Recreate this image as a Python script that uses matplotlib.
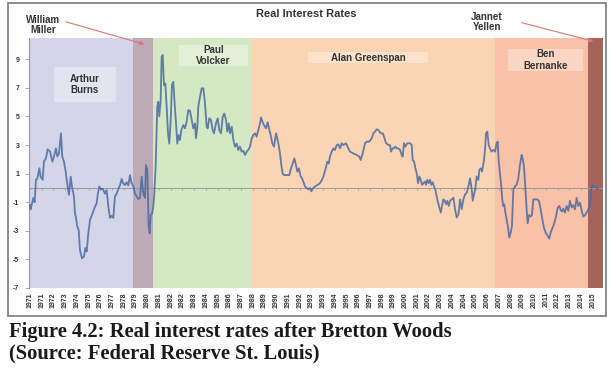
import matplotlib
matplotlib.use('Agg')
import matplotlib.pyplot as plt
from matplotlib.patches import Rectangle
import numpy as np

# ---------------- data ----------------
# months since Jan 1971, real interest rate (%)
months = [0, 0.6, 3.1, 4.4, 5.6, 6.9, 8.8, 10.0, 11.9, 13.1, 15.0, 16.6, 18.8, 21.0, 22.5, 24.4,
          25.7, 27.2, 29.1, 30.3, 31.9, 33.5, 35.3, 36.6, 38.2, 39.4, 41.3, 42.2, 43.2, 44.4, 45.7,
          46.9, 48.8, 50.7, 51.9, 53.2, 54.7, 56.3, 58.8, 61.0, 62.5, 63.5, 65.0, 66.6, 68.2, 70.4,
          71.9, 73.5, 75.1, 76.6, 78.2, 79.7, 81.3, 82.9, 84.4, 86.0, 87.6, 89.1, 90.7, 92.3, 93.8,
          95.4, 97.0, 98.5, 100.1, 101.6, 103.2, 104.8, 106.3, 107.9, 108.8, 110.1, 111.3, 112.3,
          113.2, 114.5, 115.7, 116.6, 117.9, 118.8, 119.4, 120.4, 121.3, 122.6, 123.5, 124.5, 125.7,
          127.0, 128.2, 129.5, 130.7, 132.0, 133.2, 134.5, 135.7, 137.0, 138.2, 139.5, 140.7, 142.0,
          143.9, 145.4, 147.0, 148.5, 150.1, 151.7, 153.2, 154.8, 155.7, 157.0, 157.9, 159.5, 161.1,
          162.6, 164.2, 165.7, 166.7, 168.2, 169.8, 171.4, 172.6, 174.5, 176.1, 177.6, 179.2, 180.8,
          182.3, 183.9, 185.1, 186.4, 187.6, 189.2, 190.8, 192.3, 193.9, 195.4, 197.0, 198.6, 200.1,
          201.7, 203.3, 204.8, 206.4, 208.0, 209.5, 211.1, 212.6, 214.2, 215.8, 216.7, 218.3, 219.5,
          221.4, 223.0, 224.5, 225.8, 227.3, 228.9, 230.8, 232.0, 233.3, 234.5, 235.8, 237.0, 238.3,
          240.8, 243.3, 244.5, 246.4, 248.0, 249.5, 250.8, 252.3, 253.9, 255.2, 256.4, 258.0, 259.5,
          261.1, 262.7, 263.9, 265.8, 267.4, 269.5, 272.0, 273.9, 275.2, 277.1, 278.9, 280.2, 281.4,
          283.0, 284.6, 286.1, 287.7, 289.2, 290.8, 292.4, 293.9, 296.4, 298.6, 300.2, 303.3, 306.4,
          309.0, 310.2, 312.1, 314.3, 315.9, 318.4, 320.5, 322.1, 323.7, 325.2, 326.8, 329.0, 330.9,
          332.1, 334.0, 336.2, 337.7, 338.7, 340.2, 341.5, 342.7, 344.0, 345.6, 347.1, 348.7, 349.6,
          350.9, 352.1, 354.0, 356.5, 358.1, 359.0, 360.3, 361.5, 362.8, 364.0, 365.3, 366.5, 367.8,
          369.0, 370.6, 371.5, 372.8, 374.0, 375.3, 376.5, 377.8, 379.0, 380.3, 381.5, 382.8, 384.0,
          385.3, 386.5, 387.8, 389.0, 390.3, 391.5, 392.8, 394.0, 395.6, 397.2, 398.7, 400.3, 401.9,
          403.4, 405.0, 406.5, 408.1, 409.7, 411.2, 412.8, 414.4, 415.3, 416.5, 417.8, 419.0, 420.6,
          421.5, 422.8, 424.0, 425.9, 426.9, 427.8, 429.0, 430.3, 431.5, 433.0, 434.6, 436.2, 437.7,
          438.7, 439.6, 440.9, 442.1, 443.0, 444.0, 444.9, 445.9, 447.1, 448.4, 449.6, 450.9, 452.1,
          453.4, 454.9, 456.5, 458.1, 459.6, 461.2, 462.1, 463.4, 464.6, 465.9, 466.8, 468.1, 469.6,
          470.9, 472.1, 473.7, 475.9, 477.4, 479.0, 480.6, 482.1, 483.7, 485.6, 487.1, 488.4, 490.3,
          491.5, 493.4, 495.0, 496.5, 497.8, 499.0, 500.3, 501.8, 503.4, 505.0, 506.5, 508.1, 509.7,
          511.2, 512.8, 514.3, 515.9, 517.5, 519.0, 520.6, 522.2, 523.7, 525.3, 526.2, 527.5, 528.7,
          530.3, 531.5, 532.8]
rates = [-1.2, -1.5, -0.7, -1.0, 0.56, 0.65, 1.38, 0.79, 0.56, 1.84, 2.07, 2.7, 2.55, 1.84, 2.2, 2.77,
         2.2, 2.4, 3.82, 2.2, 1.84, 1.14, 0.1, -0.49, 0.79, 0.1, -0.6, -1.77, -2.1, -2.7, -2.94,
         -4.34, -4.92, -4.8, -4.2, -4.45, -3.2, -2.24, -1.77, -1.3, -1.1, -0.49, 0.1, -0.1, -0.05, -0.4,
         -0.15, -1.3, -2.1, -1.95, -2.1, -0.6, -0.4, -0.07, 0.17, 0.63, 0.3, 0.2, 0.4, 0.17, 0.9,
         0.33, 0.1, -0.4, -0.6, -0.77, -0.7, 0.79, -0.4, -0.7, 1.6, 1.27, -2.7, -3.17,
         -1.89, -1.8, -1.3, -0.4, 1.49, 4.0, 5.7, 6.03, 5.0, 6.1, 9.18, 9.3, 7.2,
         7.3, 5.69, 3.8, 3.1, 4.75, 7.2, 7.43, 5.92, 4.52, 3.1, 3.7, 3.35, 4.05,
         4.4, 4.17, 4.64, 5.45, 5.4, 4.75, 4.17, 4.52, 3.47, 4.29, 5.69, 6.38, 6.97,
         6.97, 5.92, 4.29, 4.17, 4.87, 4.75, 4.05, 3.82, 4.52, 4.87, 4.05, 3.82, 4.98,
         5.2, 4.75, 3.94, 4.52, 3.82, 4.29, 3.35, 2.89, 3.1, 2.66, 2.89, 2.54, 2.6,
         2.31, 2.54, 2.66, 2.89, 3.47, 3.7, 3.82, 3.59, 4.05, 4.52, 4.94, 4.6, 4.4,
         4.17, 4.6, 4.05, 3.7, 3.13, 2.89, 3.82, 3.47, 3.0, 2.42, 1.6, 1.0, 0.9,
         0.9, 0.9, 1.28, 1.72, 2.07, 1.6, 1.14, 1.37, 0.8, 0.68, 0.45, 0.1, 0.0,
         -0.1, 0.0, -0.24, 0.0, 0.1, 0.2, 0.33, 0.57, 0.8, 1.28, 1.84, 1.7, 2.19,
         2.54, 2.77, 2.65, 3.0, 3.05, 2.77, 3.13, 3.0, 3.13, 2.77, 2.54, 2.42, 2.31,
         2.19, 1.96, 2.42, 3.13, 3.24, 3.24, 3.47, 3.82, 3.94, 4.1, 4.05, 3.82, 3.82,
         3.59, 3.13, 3.0, 3.0, 2.54, 2.77, 2.77, 2.89, 2.77, 2.77, 2.66, 2.31, 2.19,
         3.13, 2.89, 3.13, 3.13, 3.0, 1.96, 1.84, 1.37, 1.03, 0.33, 0.8, 0.57, 0.22,
         0.33, 0.45, 0.22, 0.57, 0.33, 0.57, 0.22, 0.4, 0.1, -0.13, -0.6, -1.03, -1.37,
         -1.72, -1.26, -0.8, -0.9, -1.14, -0.9, -1.26, -0.9, -0.8, -0.68, -1.49, -2.07, -1.84,
         -0.8, -1.49, -0.8, -0.45, -0.33, 0.1, 0.68, -0.13, -0.9, -0.45, 0.0, 0.8, 0.57,
         1.26, 1.37, 1.14, 1.96, 2.77, 3.82, 3.94, 3.0, 2.77, 2.54, 2.66, 2.54, 3.13,
         3.24, 1.96, 1.03, 0.1, -0.8, -1.26, -1.15, -1.72, -2.19, -2.77, -3.47, -3.12, -2.66,
         -0.1, 0.1, 0.22, 0.68, 1.6, 2.31, 2.07, 1.49, 0.1, -1.53, -2.47, -1.9, -2.0,
         -1.9, -0.8, -0.8, -0.8, -0.9, -1.49, -2.19, -2.77, -3.12, -3.36, -3.54, -3.12, -2.77,
         -2.54, -2.0, -1.4, -1.26, -1.53, -1.65, -1.45, -1.72, -1.26, -1.6, -0.9, -1.37, -1.2,
         -1.5, -0.7, -1.26, -1.03, -1.6, -2.0, -1.9, -1.72, -1.5, -1.26, -0.33, 0.22, 0.1,
         0.07, 0.0, -0.07]

tick_labels = ['1971', '1971', '1972', '1973', '1974', '1975', '1976', '1977', '1978', '1979',
               '1980', '1981', '1982', '1982', '1983', '1984', '1985', '1986', '1987', '1988',
               '1989', '1990', '1991', '1992', '1993', '1993', '1994', '1995', '1996', '1997',
               '1998', '1999', '2000', '2001', '2002', '2003', '2004', '2004', '2005', '2006',
               '2007', '2008', '2009', '2010', '2011', '2012', '2013', '2014', '2015']
ytick_values = [9, 7, 5, 3, 1, -1, -3, -5, -7]

chairs = ['Arthur\nBurns', 'William\nMiller', 'Paul\nVolcker', 'Alan Greenspan', 'Ben\nBernanke', 'Jannet\nYellen']
chair_start = [-0.9, 96.6, 115.4, 208.3, 436.2, 523.4]
chair_end = [96.6, 115.4, 208.3, 436.2, 523.4, 537.5]

# ---------------- style ----------------
band_colors = ['#d5d5ea', '#bcaab6', '#d3e8c3', '#fad5b5', '#f8c1a8', '#a5645a']
box_colors = {'Arthur\nBurns': '#e3e3f2', 'Paul\nVolcker': '#e3f0d8',
              'Alan Greenspan': '#fce2cb', 'Ben\nBernanke': '#fcd6c5'}
# label boxes (xmin, xmax, ymin, ymax) in data units
box_extent = {'Arthur\nBurns': (22.5, 80.7, 6.01, 8.46),
              'Paul\nVolcker': (139.8, 204.5, 8.53, 10.0),
              'Alan Greenspan': (260.8, 373.4, 8.74, 9.51),
              'Ben\nBernanke': (448.4, 518.8, 8.18, 9.72)}

plt.rcParams['font.family'] = ['Liberation Sans', 'DejaVu Sans']
txt = '#333333'

W, H = 610, 374
fig = plt.figure(figsize=(W / 100, H / 100), dpi=100)
fig.patch.set_facecolor('white')
ax = fig.add_axes([29 / W, 1 - 288 / H, (603 - 29) / W, (288 - 38) / H])
ax.set_xlim(-0.9, 537.5)
ax.set_ylim(-7, 10.49)

for s, e, c in zip(chair_start, chair_end, band_colors):
    ax.axvspan(s, e, color=c, lw=0, zorder=0)

for name, (x0, x1, y0, y1) in box_extent.items():
    ax.add_patch(Rectangle((x0, y0), x1 - x0, y1 - y0, facecolor=box_colors[name],
                           edgecolor='none', zorder=1))
    ax.text((x0 + x1) / 2, (y0 + y1) / 2, name, ha='center', va='center', fontsize=7,
            fontweight='bold', color=txt, linespacing=1.15, zorder=2)

# zero axis with tick marks
ax.axhline(0, color='#9a9a9a', lw=0.7, zorder=2)
tick_pos = np.arange(len(tick_labels)) * 11
ax.vlines(tick_pos, -0.17, 0, color='#9a9a9a', lw=0.6, zorder=2)

ax.plot(months, rates, color='#4a6aa0', lw=1.3, alpha=0.85, zorder=3)

ax.set_xticks(tick_pos)
ax.set_xticklabels(tick_labels, rotation=90, fontsize=5, fontweight='bold', color=txt)
ax.tick_params(axis='x', length=0, pad=3)
ax.set_yticks(ytick_values)
ax.set_yticklabels([str(v) for v in ytick_values], fontsize=5, fontweight='bold', color=txt)
ax.tick_params(axis='y', length=3, width=0.6, color='#9a9a9a', pad=4)
for sp in ['top', 'right', 'bottom']:
    ax.spines[sp].set_visible(False)
ax.spines['left'].set_color('#9a9a9a')
ax.spines['left'].set_linewidth(0.8)

# title and outside annotations
fig.text(306 / W, 1 - 14 / H, 'Real Interest Rates', ha='center', va='center',
         fontsize=8, fontweight='bold', color=txt)
fig.text(43 / W, 1 - 25 / H, chairs[1], ha='center', va='center', fontsize=7,
         fontweight='bold', color=txt, linespacing=1.1)
fig.text(487 / W, 1 - 22 / H, chairs[5], ha='center', va='center', fontsize=7,
         fontweight='bold', color=txt, linespacing=1.1)
arrow_kw = dict(arrowstyle='-|>', color='#e07575', lw=0.8, mutation_scale=6)
fig.add_artist(matplotlib.patches.FancyArrowPatch((63 / W, 1 - 21 / H), (147 / W, 1 - 45 / H),
                                                  transform=fig.transFigure, **arrow_kw))
fig.add_artist(matplotlib.patches.FancyArrowPatch((519 / W, 1 - 22 / H), (596 / W, 1 - 42 / H),
                                                  transform=fig.transFigure, **arrow_kw))

# outer frame
fig.add_artist(Rectangle((8 / W, 1 - 316 / H), (606 - 8) / W, (316 - 3) / H,
                         transform=fig.transFigure, fill=False, ec='#7a7a7a', lw=1.2))

# caption
cap_kw = dict(family=['Liberation Serif', 'DejaVu Serif'], fontweight='bold', fontsize=14.8,
              color='#1a1a1a', va='baseline', ha='left')
fig.text(9 / W, 1 - 337 / H, 'Figure 4.2: Real interest rates after Bretton Woods', **cap_kw)
fig.text(9 / W, 1 - 358 / H, '(Source: Federal Reserve St. Louis)', **cap_kw)

fig.savefig('out.png', dpi=100, facecolor='white')
